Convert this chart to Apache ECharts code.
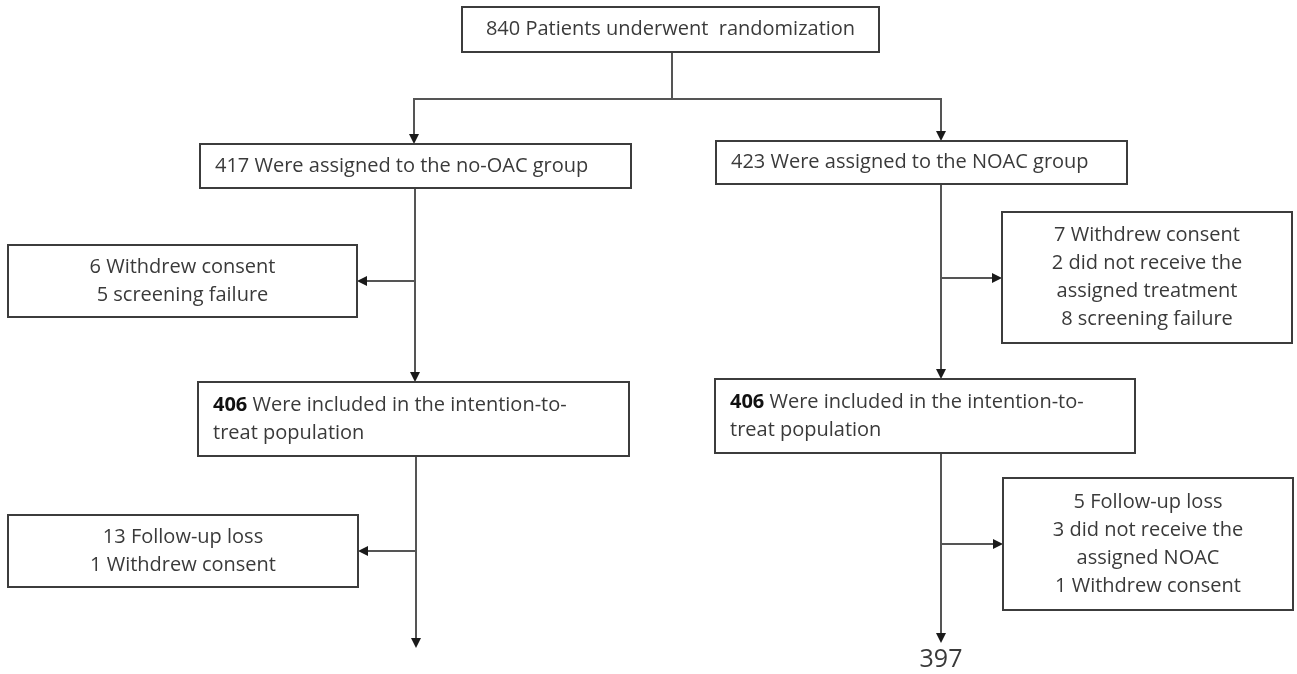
<!DOCTYPE html>
<html>
<head>
<meta charset="utf-8">
<script src="https://cdn.jsdelivr.net/npm/echarts@6/dist/echarts.min.js"></script>
<style>
html,body{margin:0;padding:0;background:#ffffff;}
#chart{width:1297px;height:674px;}
</style>
</head>
<body>
<div id="chart"></div>
<script>
// ---------------- data (values & texts) ----------------
const randomized = 840;
const groupNames = ['no-OAC', 'NOAC'];
const assignedCounts = [417, 423];
const ittCounts = [406, 406];
const exclusionsBeforeITT_noOAC = ['6 Withdrew consent', '5 screening failure'];
const exclusionsBeforeITT_NOAC = ['7 Withdrew consent', '2 did not receive the', 'assigned treatment', '8 screening failure'];
const exclusionsAfterITT_noOAC = ['13 Follow-up loss', '1 Withdrew consent'];
const exclusionsAfterITT_NOAC = ['5 Follow-up loss', '3 did not receive the', 'assigned NOAC', '1 Withdrew consent'];
const finalCountNOAC = 397;

// ---------------- layout (axis units; axes span the whole canvas) ----------------
const W = 1297, H = 674;
const layout = {
  top:   [462, 7, 879, 52],
  asgL:  [200, 144, 631, 188],
  asgR:  [716, 141, 1127, 184],
  exL1:  [8, 245, 357, 317],
  exR1:  [1002, 212, 1292, 343],
  ittL:  [198, 382, 629, 456],
  ittR:  [715, 379, 1135, 453],
  exL2:  [8, 515, 358, 587],
  exR2:  [1003, 478, 1293, 610],
  final: [941, 660]
};
const connectorLayout = [
  [672, 52, 672, 99, 0],
  [413, 99, 942, 99, 0],
  [414, 99, 414, 144, 1],
  [941, 99, 941, 141, 1],
  [415, 188, 415, 382, 1],
  [415, 281, 357, 281, 1],
  [941, 184, 941, 379, 1],
  [941, 278, 1002, 278, 1],
  [416, 456, 416, 648, 1],
  [416, 551, 358, 551, 1],
  [941, 453, 941, 643, 1],
  [941, 544, 1003, 544, 1]
];

const FONT = '"Open Sans", "Noto Sans", sans-serif';
const FS = 20;
const TXT = '#3a3a3a';
const LH = 28;

function richLines(lines) {
  return lines.map(l => '{n|' + l + '}').join('\n');
}

const nodes = [
  { box: layout.top, align: 'center', text: `{n|${randomized} Patients underwent  randomization}` },
  { box: layout.asgL, align: 'left', text: `{n|${assignedCounts[0]} Were assigned to the ${groupNames[0]} group}` },
  { box: layout.asgR, align: 'left', text: `{n|${assignedCounts[1]} Were assigned to the ${groupNames[1]} group}` },
  { box: layout.exL1, align: 'center', text: richLines(exclusionsBeforeITT_noOAC) },
  { box: layout.exR1, align: 'center', text: richLines(exclusionsBeforeITT_NOAC) },
  { box: layout.ittL, align: 'left', text: `{b|${ittCounts[0]}}{n| Were included in the intention-to-}\n{n|treat population}` },
  { box: layout.ittR, align: 'left', text: `{b|${ittCounts[1]}}{n| Were included in the intention-to-}\n{n|treat population}` },
  { box: layout.exL2, align: 'center', text: richLines(exclusionsAfterITT_noOAC) },
  { box: layout.exR2, align: 'center', text: richLines(exclusionsAfterITT_NOAC) }
];

const richStyles = {
  n: { fontFamily: FONT, fontSize: FS, fill: TXT, lineHeight: LH },
  b: { fontFamily: FONT, fontSize: FS, fill: '#111', fontWeight: 'bold', lineHeight: LH }
};

const chart = echarts.init(document.getElementById('chart'), null, { renderer: 'canvas' });

const option = {
  animation: false,
  backgroundColor: '#ffffff',
  grid: { left: 0, right: 0, top: 0, bottom: 0 },
  xAxis: { type: 'value', min: 0, max: W, show: false },
  yAxis: { type: 'value', min: 0, max: H, inverse: true, show: false },
  series: [
    {
      type: 'custom',
      name: 'connectors',
      silent: true,
      clip: false,
      data: connectorLayout,
      encode: { x: [0, 2], y: [1, 3] },
      renderItem: function (params, api) {
        const p0 = api.coord([api.value(0), api.value(1)]);
        const p1 = api.coord([api.value(2), api.value(3)]);
        const arrow = api.value(4);
        const children = [];
        let end = p1;
        if (arrow) {
          const dx = p1[0] - p0[0], dy = p1[1] - p0[1];
          const len = Math.sqrt(dx * dx + dy * dy);
          const ux = dx / len, uy = dy / len;
          const AL = 10, AW = 5;
          const bx = p1[0] - ux * AL, by = p1[1] - uy * AL;
          end = [bx, by];
          children.push({
            type: 'polygon',
            shape: { points: [[p1[0], p1[1]], [bx - uy * AW, by + ux * AW], [bx + uy * AW, by - ux * AW]] },
            style: { fill: '#1a1a1a' }
          });
        }
        children.unshift({
          type: 'line',
          shape: { x1: p0[0], y1: p0[1], x2: end[0], y2: end[1] },
          style: { stroke: '#555555', lineWidth: 2 }
        });
        return { type: 'group', children: children };
      }
    },
    {
      type: 'custom',
      name: 'boxes',
      silent: true,
      clip: false,
      data: nodes.map((n, i) => [n.box[0], n.box[1], n.box[2], n.box[3], i]),
      encode: { x: [0, 2], y: [1, 3] },
      renderItem: function (params, api) {
        const p0 = api.coord([api.value(0), api.value(1)]);
        const p1 = api.coord([api.value(2), api.value(3)]);
        const node = nodes[api.value(4)];
        const tx = node.align === 'center' ? (p0[0] + p1[0]) / 2 : p0[0] + 15;
        return {
          type: 'group',
          children: [
            {
              type: 'rect',
              shape: { x: p0[0], y: p0[1], width: p1[0] - p0[0], height: p1[1] - p0[1] },
              style: { fill: '#ffffff', stroke: '#3c3c3c', lineWidth: 2 }
            },
            {
              type: 'text',
              style: {
                text: node.text,
                x: tx,
                y: (p0[1] + p1[1]) / 2,
                align: node.align,
                verticalAlign: 'middle',
                fontFamily: FONT,
                fontSize: FS,
                fill: TXT,
                lineHeight: LH,
                rich: richStyles
              }
            }
          ]
        };
      }
    },
    {
      type: 'custom',
      name: 'final',
      silent: true,
      clip: false,
      data: [[layout.final[0], layout.final[1], finalCountNOAC]],
      encode: { x: 0, y: 1 },
      renderItem: function (params, api) {
        const p = api.coord([api.value(0), api.value(1)]);
        return {
          type: 'text',
          style: {
            text: String(api.value(2)),
            x: p[0], y: p[1],
            align: 'center', verticalAlign: 'middle',
            fontFamily: FONT, fontSize: 25, fill: TXT
          }
        };
      }
    }
  ]
};
chart.setOption(option);
</script>
</body>
</html>
